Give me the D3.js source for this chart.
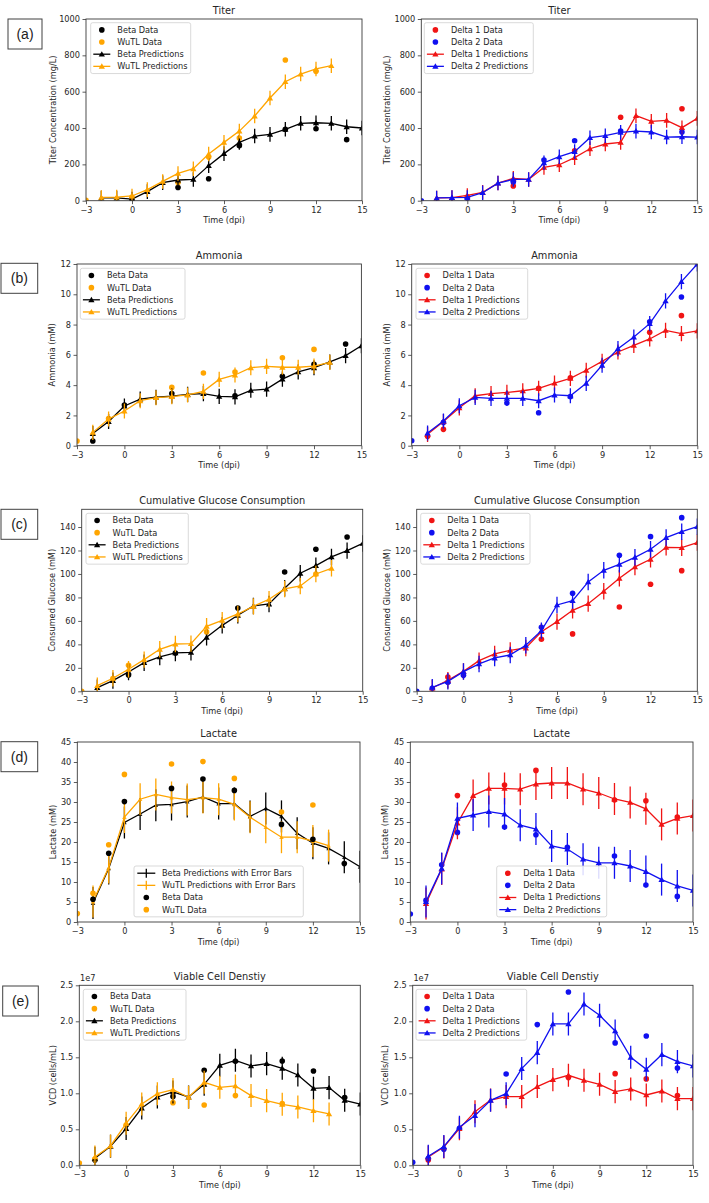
<!DOCTYPE html>
<html><head><meta charset="utf-8">
<script src="https://cdn.jsdelivr.net/npm/d3@7"></script>
<style>html,body{margin:0;padding:0;background:#fff;}svg{display:block;font-family:"DejaVu Sans",sans-serif;}</style>
</head><body><div id="chart"></div>
<script>
// ---------- DATA ----------
const xTicks = [-3, 0, 3, 6, 9, 12, 15];
const predDays = [-2,-1,0,1,2,3,4,5,6,7,8,9,10,11,12,13,14,15];
const wutlPredDays = [-2,-1,0,1,2,3,4,5,6,7,8,9,10,11,12,13];

// Titer (mg/L)
const titerBetaPred = [15,15,9,50,99,114,117,193,259,321,356,365,393,426,429,426,407,400];
const titerWutlPred = [18,20,26,61,106,150,176,257,321,383,466,565,655,697,725,743];
const titerBetaDataDays = [0,3,5,7,10,12,14];
const titerBetaData = [10,73,121,303,393,396,336];
const titerWutlDataDays = [-3,0,3,5,7,10,12];
const titerWutlData = [2,20,100,240,345,774,712];
const titerD1Pred = [15,17,29,46,97,123,117,183,198,237,286,312,321,468,437,442,402,453];
const titerD2Pred = [15,17,18,44,97,117,117,209,242,270,347,358,376,383,378,350,352,350];
const titerD1DataDays = [0,3,7,10,14];
const titerD1Data = [20,81,275,459,506];
const titerD2DataDays = [-3,0,3,5,7,10,14];
const titerD2Data = [0,13,103,224,330,383,378];
const titerErr = 40;
const titerTicks = [0,200,400,600,800,1000];

// Ammonia (mM)
const ammBetaPred = [0.80,1.60,2.62,3.08,3.20,3.28,3.39,3.44,3.26,3.22,3.66,3.74,4.40,4.87,5.15,5.53,5.95,6.6];
const ammWutlPred = [0.88,1.76,2.29,2.97,3.17,3.24,3.35,3.59,4.38,4.67,5.15,5.24,5.18,5.18,5.26,5.50];
const ammBetaDataDays = [-2,0,3,7,10,12,14];
const ammBetaData = [0.31,2.69,3.44,3.30,4.58,5.37,6.72];
const ammWutlDataDays = [-3,-1,3,5,7,10,12];
const ammWutlData = [0.31,1.80,3.85,4.80,4.87,5.81,6.36];
const ammD1Pred = [0.75,1.60,2.50,3.30,3.44,3.52,3.63,3.79,4.14,4.45,4.98,5.57,6.19,6.63,7.05,7.62,7.40,7.58];
const ammD2Pred = [0.84,1.63,2.64,3.19,3.13,3.13,3.13,2.97,3.35,3.30,4.12,5.31,6.41,7.18,8.06,9.56,10.84,12.0];
const ammD1DataDays = [-2,-1,5,7,12,14];
const ammD1Data = [0.62,1.08,3.79,4.49,7.49,8.59];
const ammD2DataDays = [-3,-1,3,5,7,12,14];
const ammD2Data = [0.33,1.54,2.82,2.18,3.24,8.19,9.82];
const ammErr = 0.5;
const ammTicks = [0,2,4,6,8,10,12];

// Cumulative glucose (mM)
const gluBetaPred = [3.1,9.1,16.5,24.4,29.3,32.7,33.2,46.0,56.2,64.8,72.7,74.4,87.8,100.6,107.1,114.5,119.9,126];
const gluWutlPred = [4.8,11.1,18.8,27.0,35.8,40.3,40.6,55.4,60.5,65.9,72.4,78.4,87.2,89.8,100.0,104.8];
const gluBetaDataDays = [0,3,7,10,12,14];
const gluBetaData = [13.9,32.7,71,101.7,121,131.5];
const gluWutlDataDays = [-3,-1,0,5,12];
const gluWutlData = [0,10.8,22.2,50.6,100];
const gluD1Pred = [2.8,9.4,17.0,26.1,31.8,34.9,36.9,50.8,59.4,69.0,74.7,85.2,96.3,106.0,112.5,122.7,122.4,126.7];
const gluD2Pred = [3.4,8.5,16.8,23.3,28.4,31.0,39.2,51.7,73.6,77.3,93.2,103.1,108.2,114.2,121.0,131.0,136.0,140.3];
const gluD1DataDays = [-1,5,7,10,12,14];
const gluD1Data = [12.2,44.3,48.9,71.9,91.2,102.8];
const gluD2DataDays = [-3,-2,-1,0,5,7,10,12,14];
const gluD2Data = [0,2.6,7.7,13.6,54.5,83.5,115.9,131.8,148];
const gluErr = 7;
const gluTicks = [0,20,40,60,80,100,120,140];

// Lactate (mM)
const lacBetaPred = [4.75,13.4,24.9,27.0,29.2,29.4,30.1,31.25,29.6,29.6,26.4,28.4,26.4,22.2,19.7,18.4,16.2,13.8];
const lacWutlPred = [5.1,13.6,26.25,30.7,31.9,31.1,30.6,31.1,30.7,29.4,26.2,23.7,21.2,21.2,20.25,19.1];
const lacBetaDataDays = [-2,-1,0,3,5,7,10,12,14];
const lacBetaData = [5.7,17.2,30.1,33.4,35.75,32.9,24.4,20.7,14.6];
const lacWutlDataDays = [-3,-2,-1,0,3,5,7,10,12];
const lacWutlData = [2.1,7.2,19.3,36.9,39.5,40.1,35.9,27.5,29.25];
const lacD1Pred = [4.6,13.25,24.7,31.6,33.4,33.4,33.2,34.5,34.75,34.75,33.2,32.25,30.75,29.9,28.3,24.4,25.9,26.6];
const lacD2Pred = [5.1,13.4,25.9,26.75,27.6,27.0,24.2,23.25,19.0,18.25,15.7,14.8,14.8,14.0,12.6,10.6,9.0,7.9];
const lacD1DataDays = [0,3,5,10,12,14];
const lacD1Data = [31.6,34.25,37.9,30.5,30.3,26.25];
const lacD2DataDays = [-3,-2,-1,0,3,5,7,10,12,14];
const lacD2Data = [2.0,5.4,14.3,22.4,23.75,21.8,18.7,16.5,9.25,6.4];
const lacErr = 4;
const lacTicks = [0,5,10,15,20,25,30,35,40,45];

// Viable cell density (x1e7 cells/mL)
const vcdBetaPred = [0.097,0.264,0.51,0.796,0.949,1.019,0.949,1.125,1.389,1.458,1.38,1.412,1.347,1.255,1.069,1.079,0.903,0.85];
const vcdWutlPred = [0.116,0.269,0.583,0.852,0.995,1.051,0.944,1.153,1.083,1.102,0.968,0.898,0.847,0.81,0.759,0.713];
const vcdBetaDataDays = [-2,3,5,7,10,12,14];
const vcdBetaData = [0.074,0.954,1.319,1.444,1.449,1.31,0.94];
const vcdWutlDataDays = [-3,-2,0,3,5,7,10];
const vcdWutlData = [0.032,0.088,0.56,0.87,0.838,0.968,0.856];
const vcdD1Pred = [0.116,0.255,0.509,0.745,0.907,0.954,0.954,1.093,1.19,1.25,1.18,1.125,1.023,1.06,0.977,1.032,0.926,0.926];
const vcdD2Pred = [0.125,0.26,0.528,0.69,0.903,0.995,1.343,1.565,1.963,1.963,2.24,2.083,1.866,1.5,1.333,1.537,1.44,1.38];
const vcdD1DataDays = [-2,7,10,12,14];
const vcdD1Data = [0.074,1.218,1.273,1.2,0.968];
const vcdD2DataDays = [-3,-2,-1,0,3,5,7,10,12,14];
const vcdD2Data = [0.042,0.093,0.222,0.514,1.268,1.954,2.407,1.7,1.796,1.352];
const vcdErr = 0.16;
const vcdTicks = [0,0.5,1.0,1.5,2.0,2.5];

// ---------- STYLE ----------
const C = {black:'#000000', orange:'#ffa500', red:'#f01414', blue:'#1010f0'};
const TXT = '#262626';
const FS = 8.2, TFS = 9.8;

const W = 709, H = 1203;
const svg = d3.select('#chart').append('svg').attr('width', W).attr('height', H);

function D(label, color, days, vals){ return {kind:'data', label, color, days, vals}; }
function P(label, color, days, vals, err){ return {kind:'pred', label, color, days, vals, err}; }

const rows = [
  {tag:'(a)', box:[8,19,34,30], y0:19, y1:200.7, ymax:1000, ticks:titerTicks, fmt:d3.format('d'), title:'Titer', ylabel:'Titer Concentration (mg/L)',
   left:{x0:86, x1:362, ylx:53, leg:[90.7,22.7,100],
     series:[D('Beta Data',C.black,titerBetaDataDays,titerBetaData), D('WuTL Data',C.orange,titerWutlDataDays,titerWutlData),
             P('Beta Predictions',C.black,predDays,titerBetaPred,titerErr), P('WuTL Predictions',C.orange,wutlPredDays,titerWutlPred,titerErr)]},
   right:{x0:421.3, x1:697.3, ylx:386.7, leg:[424.3,22.7,109],
     series:[D('Delta 1 Data',C.red,titerD1DataDays,titerD1Data), D('Delta 2 Data',C.blue,titerD2DataDays,titerD2Data),
             P('Delta 1 Predictions',C.red,predDays,titerD1Pred,titerErr), P('Delta 2 Predictions',C.blue,predDays,titerD2Pred,titerErr)]}},
  {tag:'(b)', box:[1,263.3,36.7,30], y0:264, y1:445.7, ymax:12, ticks:ammTicks, fmt:d3.format('d'), title:'Ammonia', ylabel:'Ammonia (mM)',
   left:{x0:77, x1:361.4, ylx:51.7, leg:[80.3,268.3,104.7],
     series:[D('Beta Data',C.black,ammBetaDataDays,ammBetaData), D('WuTL Data',C.orange,ammWutlDataDays,ammWutlData),
             P('Beta Predictions',C.black,predDays,ammBetaPred,ammErr), P('WuTL Predictions',C.orange,wutlPredDays,ammWutlPred,ammErr)]},
   right:{x0:411.7, x1:697.3, ylx:386.7, leg:[416,268.3,111.7],
     series:[D('Delta 1 Data',C.red,ammD1DataDays,ammD1Data), D('Delta 2 Data',C.blue,ammD2DataDays,ammD2Data),
             P('Delta 1 Predictions',C.red,predDays,ammD1Pred,ammErr), P('Delta 2 Predictions',C.blue,predDays,ammD2Pred,ammErr)]}},
  {tag:'(c)', box:[1,509.3,36.7,30], y0:509.3, y1:691.3, ymax:155.1, ticks:gluTicks, fmt:d3.format('d'), title:'Cumulative Glucose Consumption', ylabel:'Consumed Glucose (mM)',
   left:{x0:81.7, x1:362.7, ylx:51.7, leg:[86,513.3,102.3],
     series:[D('Beta Data',C.black,gluBetaDataDays,gluBetaData), D('WuTL Data',C.orange,gluWutlDataDays,gluWutlData),
             P('Beta Predictions',C.black,predDays,gluBetaPred,gluErr), P('WuTL Predictions',C.orange,wutlPredDays,gluWutlPred,gluErr)]},
   right:{x0:416.7, x1:697.3, ylx:387, leg:[420.7,513.3,109.3],
     series:[D('Delta 1 Data',C.red,gluD1DataDays,gluD1Data), D('Delta 2 Data',C.blue,gluD2DataDays,gluD2Data),
             P('Delta 1 Predictions',C.red,predDays,gluD1Pred,gluErr), P('Delta 2 Predictions',C.blue,predDays,gluD2Pred,gluErr)]}},
  {tag:'(d)', box:[1,741.7,36.7,30], y0:742, y1:922, ymax:45, ticks:lacTicks, fmt:d3.format('d'), title:'Lactate', ylabel:'Lactate (mM)',
   left:{x0:77.3, x1:360, ylx:53.3, leg:[134,866,169.3], errLegend:true, small:true,
     series:[P('Beta Predictions with Error Bars',C.black,predDays,lacBetaPred,lacErr), P('WuTL Predictions with Error Bars',C.orange,wutlPredDays,lacWutlPred,lacErr),
             D('Beta Data',C.black,lacBetaDataDays,lacBetaData), D('WuTL Data',C.orange,lacWutlDataDays,lacWutlData)]},
   right:{x0:410.3, x1:693, ylx:385, leg:[496.7,866,110],
     series:[D('Delta 1 Data',C.red,lacD1DataDays,lacD1Data), D('Delta 2 Data',C.blue,lacD2DataDays,lacD2Data),
             P('Delta 1 Predictions',C.red,predDays,lacD1Pred,lacErr), P('Delta 2 Predictions',C.blue,predDays,lacD2Pred,lacErr)]}},
  {tag:'(e)', box:[2.7,986,35.6,30], y0:985.3, y1:1165.3, ymax:2.5, ticks:vcdTicks, fmt:d3.format('.1f'), title:'Viable Cell Denstiy', ylabel:'VCD (cells/mL)', offset:'1e7',
   left:{x0:79.3, x1:360.3, ylx:53.3, leg:[83.3,989.3,102.7],
     series:[D('Beta Data',C.black,vcdBetaDataDays,vcdBetaData), D('WuTL Data',C.orange,vcdWutlDataDays,vcdWutlData),
             P('Beta Predictions',C.black,predDays,vcdBetaPred,vcdErr), P('WuTL Predictions',C.orange,wutlPredDays,vcdWutlPred,vcdErr)]},
   right:{x0:412.7, x1:693, ylx:385, leg:[416,989.3,110.7],
     series:[D('Delta 1 Data',C.red,vcdD1DataDays,vcdD1Data), D('Delta 2 Data',C.blue,vcdD2DataDays,vcdD2Data),
             P('Delta 1 Predictions',C.red,predDays,vcdD1Pred,vcdErr), P('Delta 2 Predictions',C.blue,predDays,vcdD2Pred,vcdErr)]}}
];

const tri = d3.symbol().type(d3.symbolTriangle);
let clipId = 0;

function drawPanel(row, side){
  const p = row[side];
  const x = d3.scaleLinear().domain([-3, 15]).range([p.x0, p.x1]);
  const y = d3.scaleLinear().domain([0, row.ymax]).range([row.y1, row.y0]);
  const g = svg.append('g');
  const id = 'clip' + (clipId++);
  svg.append('clipPath').attr('id', id).append('rect')
    .attr('x', p.x0).attr('y', row.y0).attr('width', p.x1 - p.x0).attr('height', row.y1 - row.y0);

  // axes
  const xa = g.append('g').attr('transform', `translate(0,${row.y1})`)
    .call(d3.axisBottom(x).tickValues(xTicks).tickSize(3.5).tickPadding(2.5).tickFormat(d => d < 0 ? '\u2212' + Math.abs(d) : d));
  const ya = g.append('g').attr('transform', `translate(${p.x0},0)`)
    .call(d3.axisLeft(y).tickValues(row.ticks).tickSize(3.5).tickPadding(2.5).tickFormat(row.fmt));
  [xa, ya].forEach(a => {
    a.select('.domain').remove();
    a.selectAll('line').attr('stroke', '#333').attr('stroke-width', 0.8);
    a.selectAll('text').attr('fill', TXT).attr('font-size', FS).attr('font-family', '"DejaVu Sans",sans-serif');
  });

  // marks
  const m = g.append('g').attr('clip-path', `url(#${id})`);
  p.series.forEach(s => {
    const pts = s.days.map((d, i) => [d, s.vals[i]]);
    if (s.kind === 'data') {
      m.append('g').selectAll('circle').data(pts).join('circle')
        .attr('cx', d => x(d[0])).attr('cy', d => y(d[1])).attr('r', 2.8).attr('fill', s.color);
    } else {
      const sg = m.append('g');
      sg.selectAll('line').data(pts).join('line')
        .attr('x1', d => x(d[0])).attr('x2', d => x(d[0]))
        .attr('y1', d => y(d[1] - s.err)).attr('y2', d => y(d[1] + s.err))
        .attr('stroke', s.color).attr('stroke-width', 1.3);
      sg.append('path').datum(pts)
        .attr('d', d3.line().x(d => x(d[0])).y(d => y(d[1])))
        .attr('fill', 'none').attr('stroke', s.color).attr('stroke-width', 1.3);
      sg.selectAll('path.mk').data(pts).join('path').attr('class', 'mk')
        .attr('transform', d => `translate(${x(d[0])},${y(d[1]) + 0.6})`)
        .attr('d', tri.size(p.small ? 9 : 17)()).attr('fill', s.color)
        .attr('opacity', p.small ? 0.85 : 1);
    }
  });

  // frame
  g.append('rect').attr('x', p.x0).attr('y', row.y0).attr('width', p.x1 - p.x0).attr('height', row.y1 - row.y0)
    .attr('fill', 'none').attr('stroke', '#3a3a3a').attr('stroke-width', 0.9);

  // title & labels
  const cx = (p.x0 + p.x1) / 2;
  g.append('text').attr('x', cx).attr('y', row.y0 - 5.5).attr('text-anchor', 'middle')
    .attr('font-size', TFS).attr('fill', TXT).text(row.title);
  g.append('text').attr('x', cx).attr('y', row.y1 + 22.7).attr('text-anchor', 'middle')
    .attr('font-size', FS).attr('fill', TXT).text('Time (dpi)');
  g.append('text').attr('transform', `translate(${p.ylx},${(row.y0 + row.y1) / 2}) rotate(-90)`)
    .attr('text-anchor', 'middle').attr('dy', '0.35em').attr('font-size', FS).attr('fill', TXT).text(row.ylabel);
  if (row.offset) {
    g.append('text').attr('x', p.x0 + 0.7).attr('y', row.y0 - 4.3).attr('font-size', FS).attr('fill', TXT).text(row.offset);
  }

  // legend
  const [lx, ly, lw] = p.leg;
  const lg = g.append('g');
  const n = p.series.length, step = 12.15;
  lg.append('rect').attr('x', lx).attr('y', ly).attr('width', lw).attr('height', 7 + step * (n - 1) + 7.4)
    .attr('rx', 2).attr('fill', '#fff').attr('fill-opacity', 0.85).attr('stroke', '#cfcfcf').attr('stroke-width', 0.8);
  p.series.forEach((s, i) => {
    const cy = ly + 7.2 + i * step;
    const hx0 = lx + (p.errLegend ? 3.3 : 2.6), hx1 = lx + (p.errLegend ? 21.3 : 19.6), hc = (hx0 + hx1) / 2;
    if (s.kind === 'data') {
      lg.append('circle').attr('cx', hc).attr('cy', cy).attr('r', 2.8).attr('fill', s.color);
    } else {
      lg.append('line').attr('x1', hx0).attr('x2', hx1).attr('y1', cy).attr('y2', cy).attr('stroke', s.color).attr('stroke-width', 1.3);
      if (p.errLegend) {
        lg.append('line').attr('x1', hc).attr('x2', hc).attr('y1', cy - 4.5).attr('y2', cy + 4.5).attr('stroke', s.color).attr('stroke-width', 1.3);
      } else {
        lg.append('path').attr('transform', `translate(${hc},${cy + 0.6})`).attr('d', tri.size(17)()).attr('fill', s.color);
      }
    }
    lg.append('text').attr('x', lx + (p.errLegend ? 28 : 26.6)).attr('y', cy).attr('dy', '0.35em')
      .attr('font-size', FS).attr('fill', TXT).text(s.label);
  });
}

rows.forEach(row => {
  drawPanel(row, 'left');
  drawPanel(row, 'right');
  const [bx, by, bw, bh] = row.box;
  svg.append('rect').attr('x', bx).attr('y', by).attr('width', bw).attr('height', bh)
    .attr('fill', '#fff').attr('stroke', '#404040').attr('stroke-width', 1);
  svg.append('text').attr('x', bx + bw / 2).attr('y', by + bh / 2).attr('dy', '0.35em').attr('text-anchor', 'middle')
    .attr('font-family', '"Liberation Sans",Arial,sans-serif').attr('font-size', 14).attr('fill', '#222').text(row.tag);
});
</script></body></html>
